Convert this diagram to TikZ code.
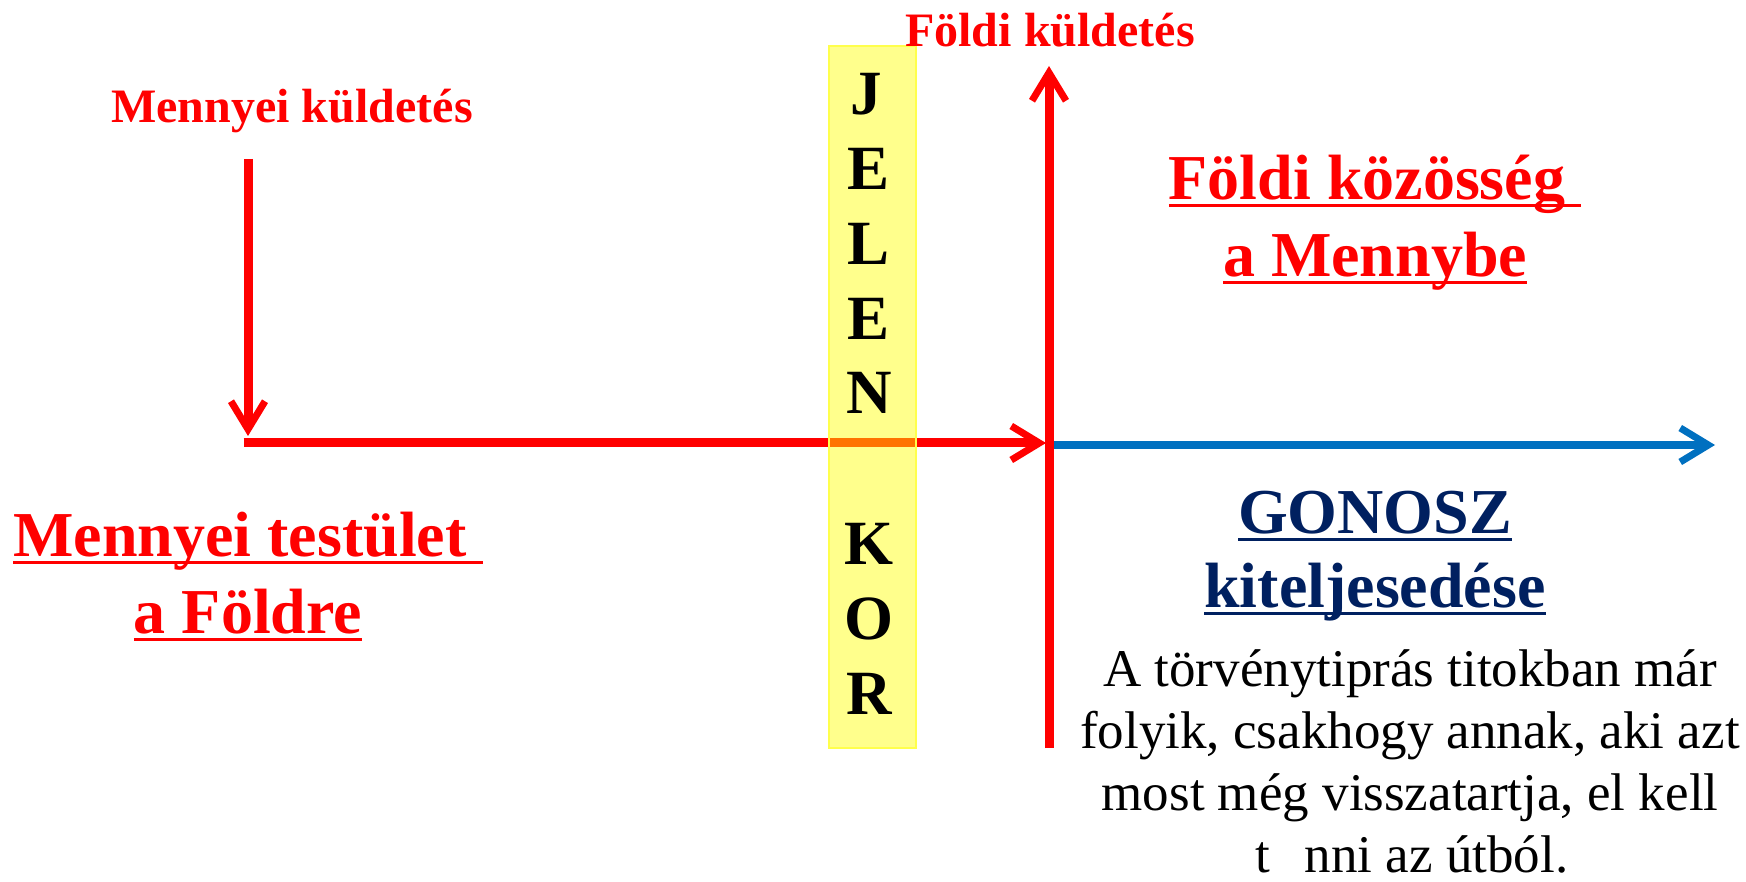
\documentclass[tikz,border=0pt]{standalone}
\usepackage{fontspec}
\setmainfont{Liberation Serif}
\usetikzlibrary{arrows.meta}
\definecolor{myred}{HTML}{FF0000}
\definecolor{navy}{HTML}{002060}
\definecolor{lineblue}{HTML}{0070C0}
\definecolor{boxyellow}{HTML}{FFFF00}
\newcommand\myul[1]{\setbox0\hbox{#1}\rlap{\rule[-7.5pt]{\wd0}{3pt}}\box0}
\tikzset{
  redline/.style={draw=myred, line width=9pt},
  blueline/.style={draw=lineblue, line width=8pt},
  barb/.style={-{Straight Barb[length=28pt,width=34pt,line width=7pt]}},
  smalllabel/.style={text=myred, font=\fontsize{48}{58}\selectfont\bfseries, inner sep=0pt, anchor=base},
  biglabel/.style={font=\fontsize{64}{77}\selectfont\bfseries, inner sep=0pt, anchor=base},
  letter/.style={font=\fontsize{63}{75}\selectfont\bfseries, inner sep=0pt, anchor=base, text=black},
  para/.style={font=\fontsize{53}{62}\selectfont, inner sep=0pt, anchor=base, text=black},
}
\begin{document}
\begin{tikzpicture}[x=1pt, y=-1pt]
\useasboundingbox (0,0) rectangle (1746,882);
\fill[white] (0,0) rectangle (1746,882);

% coordinates
\coordinate (dtop) at (248,159);
\coordinate (dtip) at (248,436);
\coordinate (hstart) at (243.5,443);
\coordinate (htip) at (1046,443);
\coordinate (vbot) at (1049,748);
\coordinate (vtip) at (1049,66);
\coordinate (bstart) at (1053,445);
\coordinate (btip) at (1715,445);

% red horizontal arrow (behind the yellow box)
\draw[redline, barb] (hstart) -- (htip);
% down arrow
\draw[redline, barb] (dtop) -- (dtip);
% blue arrow
\draw[blueline, barb] (bstart) -- (btip);
% vertical red arrow
\draw[redline, barb] (vbot) -- (vtip);

% yellow box
\node[draw=boxyellow!70!white, line width=1.2pt, fill=boxyellow, fill opacity=0.45,
      minimum width=87pt, minimum height=702pt, inner sep=0pt] (jelenbox) at (872.5,397) {};

% letters
\node[letter] (lJ) at (866,115) {J};
\node[letter] (lE1) at (869,190) {E};
\node[letter] (lL) at (869,265) {L};
\node[letter] (lE2) at (869,340) {E};
\node[letter] (lN) at (869,414) {N};
\node[letter] (lK) at (869,564) {K};
\node[letter] (lO) at (869,639) {O};
\node[letter] (lR) at (869,714) {R};

% small labels
\node[smalllabel] (mk) at (292,123) {Mennyei küldetés};
\node[smalllabel] (fk) at (1050,47) {Földi küldetés};

% big labels
\node[biglabel, text=myred] (fk1) at (1375,200) {\myul{Földi közösség\ }};
\node[biglabel, text=myred] (fk2) at (1375,277) {\myul{a Mennybe}};
\node[biglabel, text=myred] (mt1) at (248,556) {\myul{Mennyei testület\ }};
\node[biglabel, text=myred] (mt2) at (248,633) {\myul{a Földre}};
\node[biglabel, text=navy] (g1) at (1375,533) {\myul{GONOSZ}};
\node[biglabel, text=navy] (g2) at (1375,607) {\myul{kiteljesedése}};

% paragraph
\node[para] (p1) at (1410,686) {A törvénytiprás titokban már};
\node[para] (p2) at (1410,748) {folyik, csakhogy annak, aki azt};
\node[para] (p3) at (1410,810) {most még visszatartja, el kell};
\node[para] (p4) at (1412,872) {t\hspace{0.65em}nni az útból.};
\end{tikzpicture}
\end{document}
